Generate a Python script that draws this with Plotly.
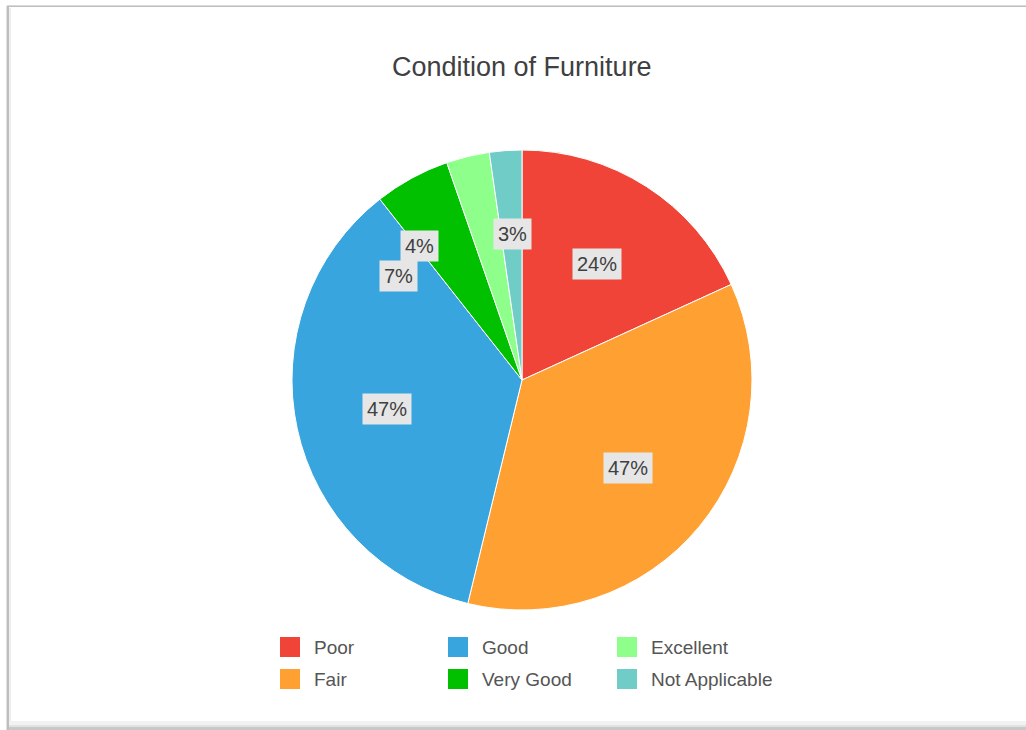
import math
import plotly.graph_objects as go

# ---------------- data ----------------
categories = ["Poor", "Fair", "Good", "Very Good", "Excellent", "Not Applicable"]
values = [24, 47, 47, 7, 4, 3]
label_texts = ["24%", "47%", "47%", "7%", "4%", "3%"]
title_text = "Condition of Furniture"

# ---------------- style ----------------
colors = ["#F04438", "#FFA033", "#38A5DE", "#00C000", "#8EFF8A", "#70CCC7"]
W, H = 1026, 730
PIE_CX, PIE_CY, PIE_R = 522, 380, 230
LABEL_RADIUS = 0.6
# pixel nudges used to keep the small-slice labels from overlapping (x right, y up)
LABEL_NUDGE = {"Very Good": (-57, -17), "Excellent": (-70, 0), "Not Applicable": (0, 8)}
FONT = "Arial, Liberation Sans, sans-serif"

LEG_COL_X = [280, 448, 617]
LEG_ROW_Y = [637, 669]
LEG_SW = 20
LEG_TEXT_DX = 32


def px(x):
    return x / W


def py(y):
    return 1 - y / H


fig = go.Figure()
fig.add_trace(go.Pie(
    labels=categories,
    values=values,
    sort=False,
    direction="clockwise",
    rotation=0,
    marker=dict(colors=colors, line=dict(color="white", width=1)),
    textinfo="none",
    hoverinfo="label+value",
    showlegend=False,
    domain=dict(x=[px(PIE_CX - PIE_R), px(PIE_CX + PIE_R)],
                y=[py(PIE_CY + PIE_R), py(PIE_CY - PIE_R)]),
))

annotations = []
shapes = []

# slice labels with grey boxes
total = sum(values)
cum = 0
for cat, v, t in zip(categories, values, label_texts):
    mid = (cum + v / 2) / total * 2 * math.pi
    cum += v
    lx = PIE_CX + LABEL_RADIUS * PIE_R * math.sin(mid)
    ly = PIE_CY - LABEL_RADIUS * PIE_R * math.cos(mid)
    dx, dy = LABEL_NUDGE.get(cat, (0, 0))
    annotations.append(dict(
        x=px(lx), y=py(ly), xref="paper", yref="paper",
        text=t, showarrow=False, xanchor="center", yanchor="middle",
        xshift=dx, yshift=dy,
        font=dict(family=FONT, size=20, color="#404040"),
        bgcolor="#E6E6E6", borderpad=4,
    ))

# title
annotations.append(dict(
    x=px(522), y=py(67), xref="paper", yref="paper", text=title_text,
    showarrow=False, xanchor="center", yanchor="middle",
    font=dict(family=FONT, size=27, color="#404040"),
))

# legend (column-major, 2 rows x 3 columns)
for i, (cat, col) in enumerate(zip(categories, colors)):
    c, r = i // 2, i % 2
    x0, y0 = LEG_COL_X[c], LEG_ROW_Y[r]
    shapes.append(dict(type="rect", xref="paper", yref="paper",
                       x0=px(x0), x1=px(x0 + LEG_SW), y0=py(y0 + LEG_SW), y1=py(y0),
                       fillcolor=col, line=dict(width=0)))
    annotations.append(dict(
        x=px(x0 + LEG_TEXT_DX), y=py(y0 + LEG_SW / 2), xref="paper", yref="paper",
        text=cat, showarrow=False, xanchor="left", yanchor="middle",
        font=dict(family=FONT, size=19, color="#555555"),
    ))

# frame (screenshot border)
frame = [
    (7, 5, W, 6, "#DADADA"),
    (7, 6, W, 7, "#BEBEBE"),
    (6, 6, 7, H, "#E0E0E0"),
    (7, 6, 9, H, "#BEBEBE"),
    (9, 8, 11, H, "#EEEEEE"),
    (9, 721, W, 725, "#F2F2F2"),
    (9, 725, W, 727, "#E2E2E2"),
    (9, 727, W, H, "#C8C8C8"),
]
for x0, y0, x1, y1, c in frame:
    shapes.append(dict(type="rect", xref="paper", yref="paper",
                       x0=px(x0), x1=px(x1), y0=py(y1), y1=py(y0),
                       fillcolor=c, line=dict(width=0), layer="below"))

fig.update_layout(
    width=W, height=H, autosize=False,
    margin=dict(l=0, r=0, t=0, b=0),
    paper_bgcolor="white", plot_bgcolor="white",
    annotations=annotations, shapes=shapes,
    showlegend=False,
)

fig.write_html(
    "out.html",
    config={"displayModeBar": False},
    post_script="document.body.style.margin='0';document.body.style.overflow='hidden';",
)
